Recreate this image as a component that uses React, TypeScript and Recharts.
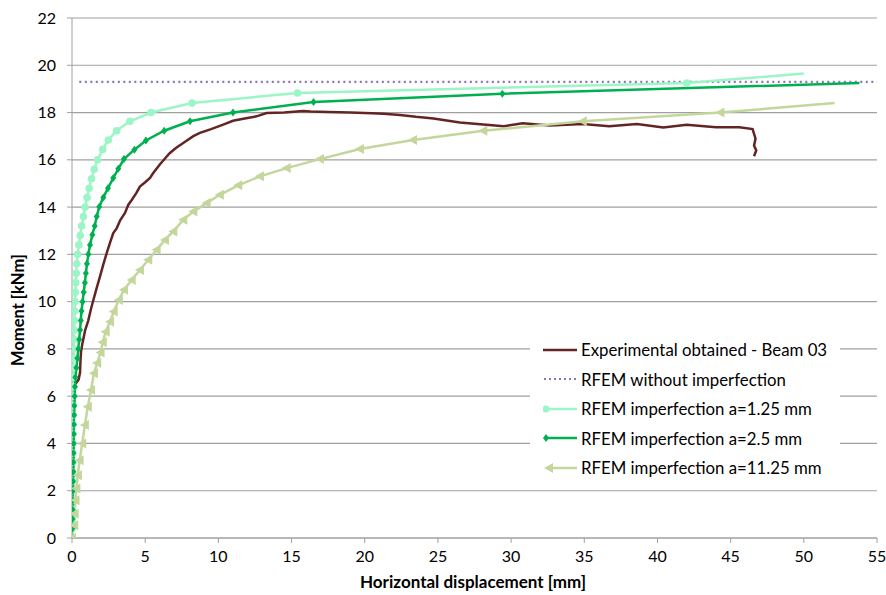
import { CartesianGrid, Line, LineChart, XAxis, YAxis } from "recharts";

// [displacement mm, moment kNm]
const experimental: [number, number][] = [
  [0, 0], [0.03, 1], [0.06, 2], [0.08, 3], [0.1, 4], [0.12, 5], [0.15, 6],
  [0.2, 6.5], [0.45, 6.7], [0.55, 7.0], [0.58, 7.5], [0.62, 7.9], [0.7, 8.2],
  [0.77, 8.4], [0.9, 8.8], [1.11, 9.2], [1.3, 9.7], [1.46, 10.07], [1.65, 10.5],
  [1.91, 11.06], [2.15, 11.6], [2.37, 12.05], [2.6, 12.5], [2.82, 12.9],
  [3.05, 13.1], [3.3, 13.45], [3.62, 13.75], [3.85, 14.1], [4.08, 14.3],
  [4.4, 14.6], [4.64, 14.87], [5.0, 15.05], [5.33, 15.23], [5.55, 15.44],
  [6.0, 15.8], [6.47, 16.14], [6.69, 16.29], [7.1, 16.5], [7.6, 16.71],
  [8.29, 17.0], [8.74, 17.14], [9.5, 17.3], [10.33, 17.49], [11.0, 17.65],
  [11.8, 17.75], [12.6, 17.84], [13.3, 17.98], [14.5, 18.0], [15.8, 18.06],
  [16.3, 18.04], [17.5, 18.02], [19.0, 18.0], [20.5, 17.97], [21.3, 17.95],
  [22.4, 17.9], [23.5, 17.82], [24.7, 17.75], [26.5, 17.58], [28.1, 17.49],
  [29.5, 17.42], [30.8, 17.55], [32.65, 17.45], [34.9, 17.52], [36.7, 17.42],
  [38.6, 17.52], [40.4, 17.37], [42.0, 17.48], [44.0, 17.38], [45.6, 17.38],
  [46.5, 17.3], [46.7, 16.9], [46.6, 16.6], [46.75, 16.4], [46.6, 16.15],
];

const noImperfection: [number, number][] = [
  [0.5, 19.3], [55, 19.3],
];

const imperfection125: [number, number][] = [
  [0, 0], [0.01, 0.4], [0.01, 0.8], [0.02, 1.2], [0.02, 1.6], [0.03, 2.0],
  [0.03, 2.4], [0.04, 2.8], [0.04, 3.2], [0.05, 3.6], [0.05, 4.0], [0.06, 4.4],
  [0.06, 4.8], [0.07, 5.2], [0.07, 5.6], [0.08, 6.0], [0.08, 6.4], [0.09, 6.8],
  [0.1, 7.2], [0.11, 7.6], [0.12, 8.0], [0.14, 8.4], [0.15, 8.8], [0.17, 9.2],
  [0.18, 9.6], [0.2, 10.0], [0.23, 10.4], [0.26, 10.8], [0.29, 11.2],
  [0.33, 11.6], [0.38, 12.0], [0.47, 12.4], [0.56, 12.8], [0.66, 13.2],
  [0.78, 13.6], [0.9, 14.0], [1.03, 14.4], [1.17, 14.8], [1.33, 15.2],
  [1.52, 15.6], [1.75, 16.0], [2.1, 16.44], [2.48, 16.84], [3.05, 17.23],
  [3.96, 17.63], [5.4, 18.0], [8.2, 18.4], [15.4, 18.83], [42, 19.25],
  [50, 19.65],
];

const imperfection25: [number, number][] = [
  [0, 0], [0.02, 0.4], [0.03, 0.8], [0.04, 1.2], [0.05, 1.6], [0.06, 2.0],
  [0.07, 2.4], [0.08, 2.8], [0.09, 3.2], [0.1, 3.6], [0.11, 4.0], [0.12, 4.4],
  [0.13, 4.8], [0.14, 5.2], [0.16, 5.6], [0.18, 6.0], [0.2, 6.4], [0.23, 6.8],
  [0.3, 7.2], [0.37, 7.6], [0.43, 8.0], [0.49, 8.4], [0.55, 8.8], [0.6, 9.2],
  [0.65, 9.6], [0.72, 10.0], [0.8, 10.4], [0.88, 10.8], [0.95, 11.2],
  [1.02, 11.6], [1.12, 12.0], [1.23, 12.4], [1.39, 12.83], [1.55, 13.2],
  [1.69, 13.6], [1.86, 14.01], [2.14, 14.41], [2.46, 14.8], [2.82, 15.23],
  [3.16, 15.62], [3.55, 16.03], [4.26, 16.43], [5.05, 16.82], [6.3, 17.23],
  [8.06, 17.63], [11.0, 18.0], [16.5, 18.45], [29.4, 18.8], [53.8, 19.25],
];

const imperfection1125: [number, number][] = [
  [0, 0], [0.15, 0.54], [0.18, 1.03], [0.24, 1.6], [0.3, 2.09], [0.4, 2.66],
  [0.52, 3.29], [0.7, 4.0], [0.88, 4.78], [1.08, 5.55], [1.3, 6.26],
  [1.5, 6.97], [1.72, 7.4], [1.95, 7.85], [2.1, 8.28], [2.3, 8.73],
  [2.6, 9.15], [2.85, 9.58], [3.2, 10.07], [3.55, 10.5], [4.08, 10.92],
  [4.64, 11.34], [5.21, 11.77], [5.78, 12.19], [6.35, 12.61], [6.92, 12.97],
  [7.6, 13.46], [8.29, 13.81], [9.2, 14.17], [10.1, 14.52], [11.36, 14.92],
  [12.84, 15.3], [14.67, 15.65], [16.94, 16.03], [19.67, 16.46], [23.3, 16.84],
  [28.1, 17.23], [34.9, 17.63], [44.3, 18.0], [52.1, 18.4],
];

const xTicks = [0, 5, 10, 15, 20, 25, 30, 35, 40, 45, 50, 55];
const yTicks = [0, 2, 4, 6, 8, 10, 12, 14, 16, 18, 20, 22];

const legendLabels = [
  "Experimental obtained - Beam 03",
  "RFEM without imperfection",
  "RFEM imperfection a=1.25 mm",
  "RFEM imperfection a=2.5 mm",
  "RFEM imperfection a=11.25 mm",
];

const BROWN = "#632523";
const PURPLE = "#8c74b8";
const MINT = "#9cf5c6";
const GREEN = "#00b050";
const OLIVE = "#c3d69b";
const FONT = "Lato, 'Open Sans', sans-serif";

const toPoints = (rows: [number, number][]) => rows.map(([x, y]) => ({ x, y }));

// the last point of each simulated curve carries no marker in the original
const isLast = (p: any, rows: [number, number][]) => p.index === rows.length - 1;

const CircleDot = (p: any) =>
  p.cx == null || isLast(p, imperfection125) ? null : (
    <circle key={`c-${p.index}`} cx={p.cx} cy={p.cy} r={3.8} fill={MINT} />
  );

const DiamondDot = (p: any) =>
  p.cx == null || isLast(p, imperfection25) ? null : (
    <path
      key={`d-${p.index}`}
      d={`M${p.cx},${p.cy - 4}L${p.cx + 3},${p.cy}L${p.cx},${p.cy + 4}L${p.cx - 3},${p.cy}Z`}
      fill={GREEN}
    />
  );

const TriangleDot = (p: any) =>
  p.cx == null || isLast(p, imperfection1125) ? null : (
    <path
      key={`t-${p.index}`}
      d={`M${p.cx - 5},${p.cy}L${p.cx + 4},${p.cy - 5}L${p.cx + 4},${p.cy + 5}Z`}
      fill={OLIVE}
    />
  );

function LegendIcon({ i }: { i: number }) {
  return (
    <svg width={36} height={12} style={{ display: "block" }}>
      {i === 0 && <line x1={0} y1={6} x2={34} y2={6} stroke={BROWN} strokeWidth={2.5} />}
      {i === 1 && (
        <line x1={1} y1={6} x2={34} y2={6} stroke={PURPLE} strokeWidth={2} strokeDasharray="2 3" />
      )}
      {i === 2 && (
        <g>
          <line x1={2} y1={6} x2={34} y2={6} stroke={MINT} strokeWidth={2.5} />
          <circle cx={3} cy={6} r={3.5} fill={MINT} />
        </g>
      )}
      {i === 3 && (
        <g>
          <line x1={2} y1={6} x2={34} y2={6} stroke={GREEN} strokeWidth={2.5} />
          <path d="M3,2L6,6L3,10L0,6Z" fill={GREEN} />
        </g>
      )}
      {i === 4 && (
        <g>
          <line x1={4} y1={6} x2={34} y2={6} stroke={OLIVE} strokeWidth={2.5} />
          <path d="M1,6L10,1L10,11Z" fill={OLIVE} />
        </g>
      )}
    </svg>
  );
}

export default function App() {
  return (
    <div
      style={{
        position: "absolute",
        left: 0,
        top: 0,
        width: 886,
        height: 595,
        background: "#fff",
        fontFamily: FONT,
        overflow: "hidden",
      }}
    >
      <LineChart width={886} height={595} margin={{ top: 18, right: 9, left: 32, bottom: 27 }}>
        <CartesianGrid vertical={false} stroke="#a0a0a0" strokeWidth={1.2} />
        <XAxis
          type="number"
          dataKey="x"
          domain={[0, 55]}
          ticks={xTicks}
          allowDataOverflow
          height={30}
          stroke="#a0a0a0"
          tickSize={5}
          tickMargin={8}
          tick={{ fontSize: 16, fill: "#000", fontFamily: FONT }}
        />
        <YAxis
          type="number"
          dataKey="y"
          domain={[0, 22]}
          ticks={yTicks}
          allowDataOverflow
          width={40}
          stroke="#a0a0a0"
          tickSize={5}
          tickMargin={11}
          tick={{ fontSize: 16, fill: "#000", fontFamily: FONT }}
        />
        <Line
          data={toPoints(experimental)}
          dataKey="y"
          type="linear"
          stroke={BROWN}
          strokeWidth={2.5}
          dot={false}
          isAnimationActive={false}
        />
        <Line
          data={toPoints(noImperfection)}
          dataKey="y"
          type="linear"
          stroke={PURPLE}
          strokeWidth={2.2}
          strokeDasharray="2 3.5"
          dot={false}
          isAnimationActive={false}
        />
        <Line
          data={toPoints(imperfection125)}
          dataKey="y"
          type="linear"
          stroke={MINT}
          strokeWidth={2.5}
          dot={CircleDot}
          isAnimationActive={false}
        />
        <Line
          data={toPoints(imperfection25)}
          dataKey="y"
          type="linear"
          stroke={GREEN}
          strokeWidth={2.5}
          dot={DiamondDot}
          isAnimationActive={false}
        />
        <Line
          data={toPoints(imperfection1125)}
          dataKey="y"
          type="linear"
          stroke={OLIVE}
          strokeWidth={2.5}
          dot={TriangleDot}
          isAnimationActive={false}
        />
      </LineChart>

      <div
        style={{
          position: "absolute",
          left: 530,
          top: 335,
          width: 310,
          height: 147,
          background: "#fff",
        }}
      >
        {legendLabels.map((label, i) => (
          <div
            key={label}
            style={{
              position: "absolute",
              left: 13,
              top: i * 29.5,
              height: 29.5,
              display: "flex",
              alignItems: "center",
              fontSize: 16.8,
              color: "#000",
              whiteSpace: "nowrap",
            }}
          >
            <LegendIcon i={i} />
            <span style={{ marginLeft: 2 }}>{label}</span>
          </div>
        ))}
      </div>

      <div
        style={{
          position: "absolute",
          left: 18,
          top: 310,
          transform: "translate(-50%, -50%) rotate(-90deg)",
          fontWeight: 700,
          fontSize: 16.5,
          whiteSpace: "nowrap",
        }}
      >
        Moment [kNm]
      </div>
      <div
        style={{
          position: "absolute",
          left: 473,
          top: 572,
          transform: "translateX(-50%)",
          fontWeight: 700,
          fontSize: 17,
          lineHeight: "20px",
          whiteSpace: "nowrap",
        }}
      >
        Horizontal displacement [mm]
      </div>
    </div>
  );
}
